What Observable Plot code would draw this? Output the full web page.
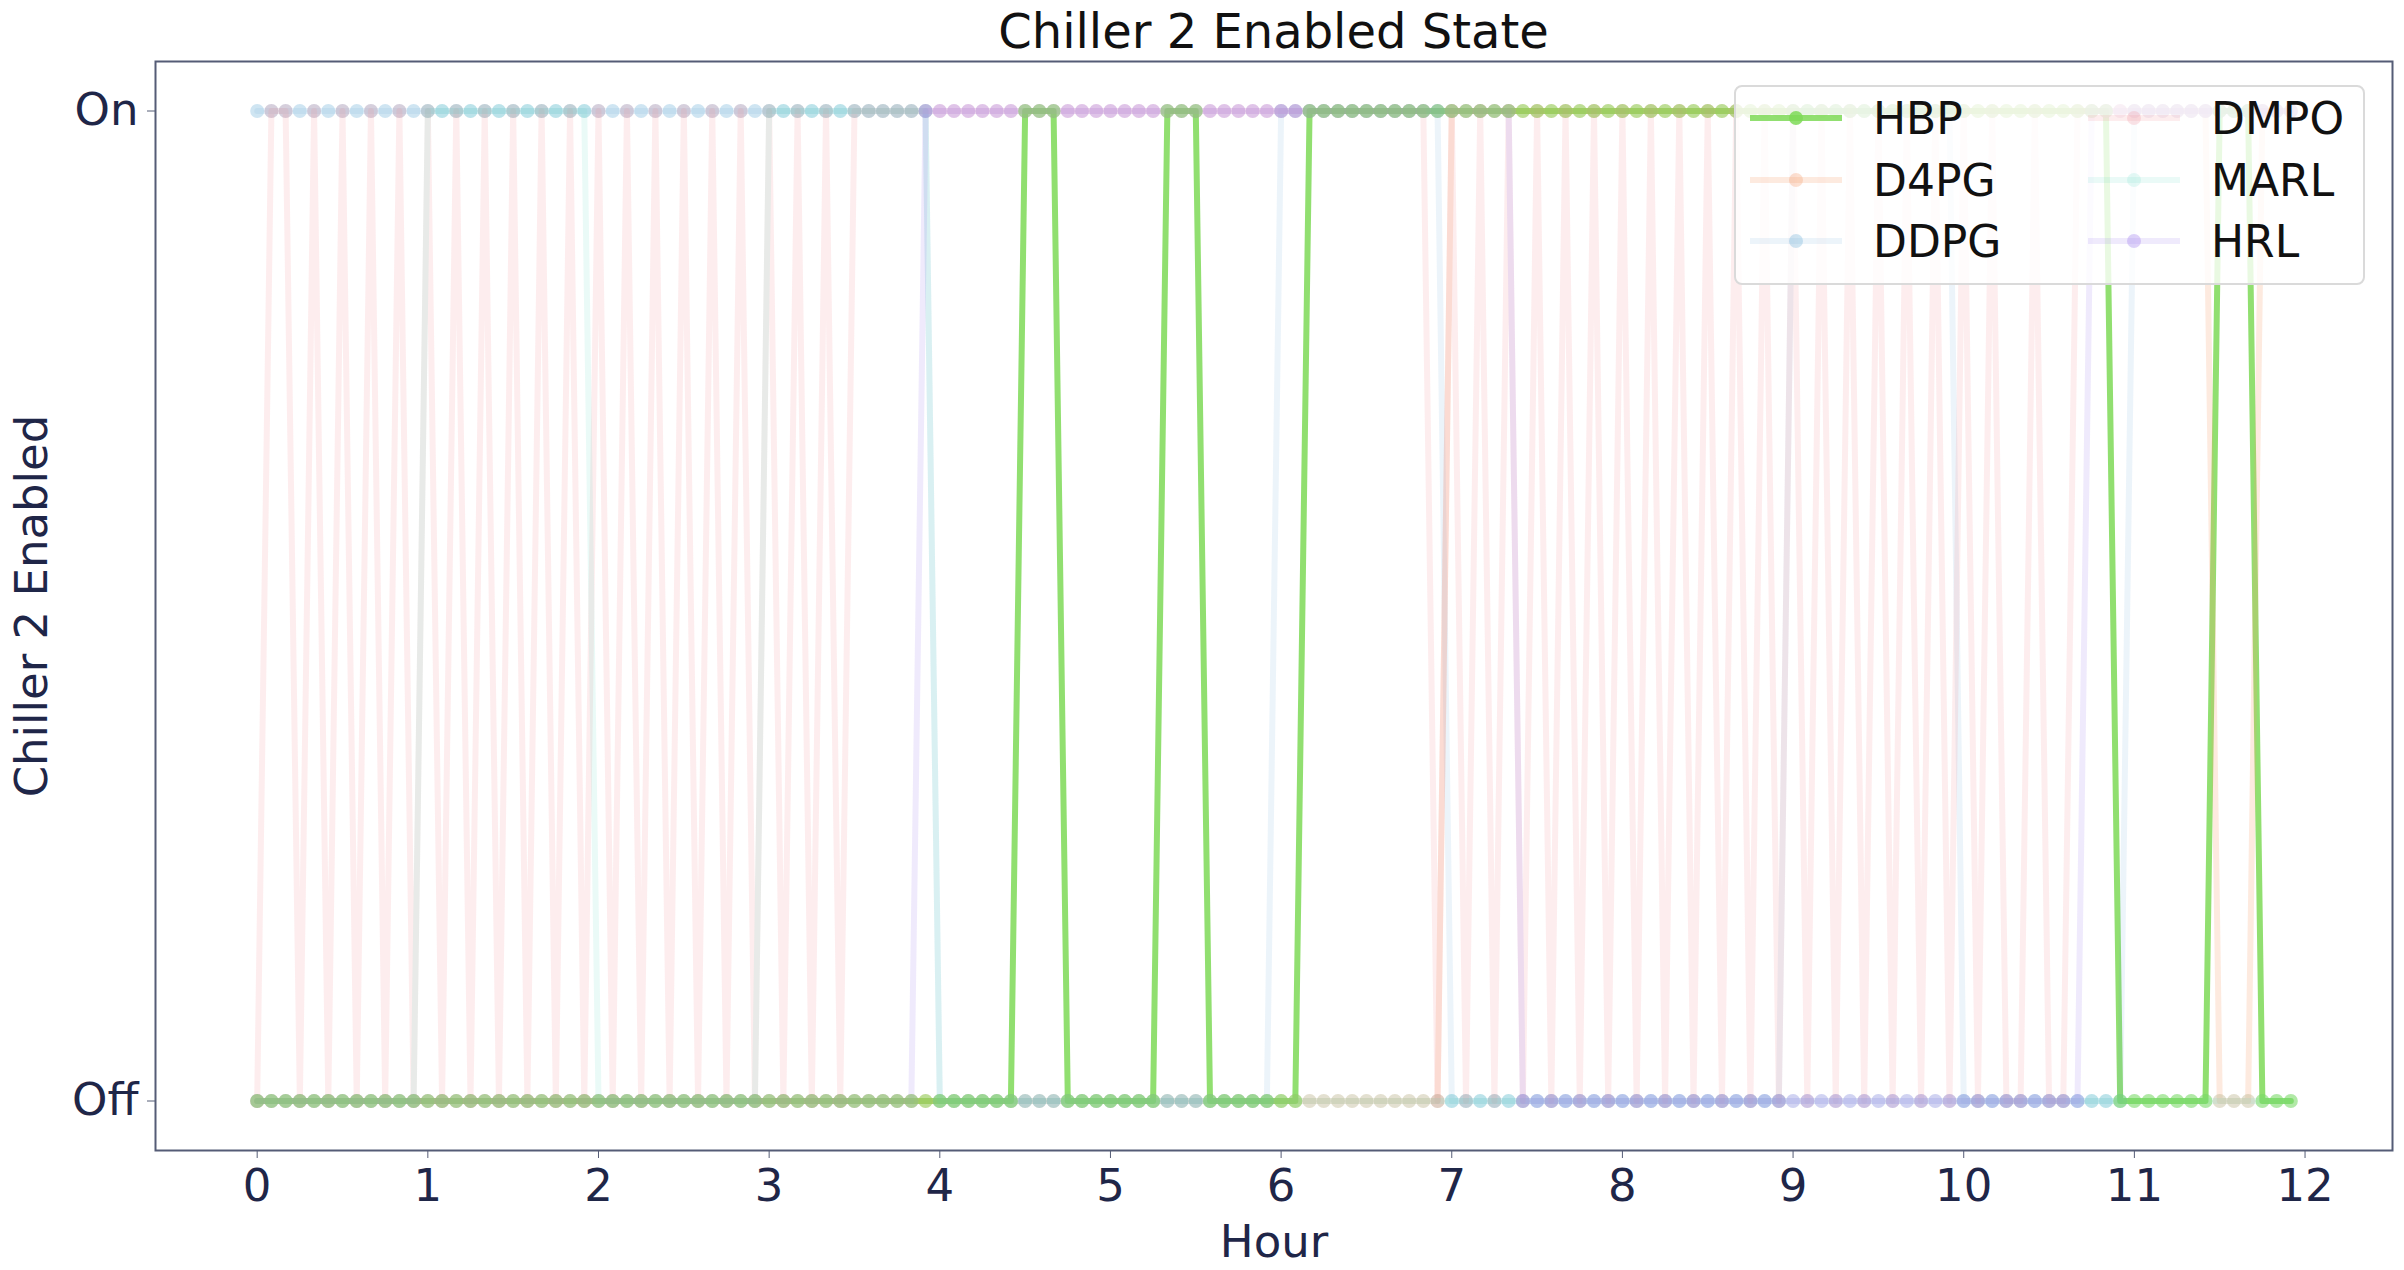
<!DOCTYPE html>
<html><head><meta charset="utf-8">
<script src="https://cdn.jsdelivr.net/npm/d3@7"></script>
<script src="https://cdn.jsdelivr.net/npm/@observablehq/plot@0.6"></script>
<style>
html,body{margin:0;padding:0;background:#fff;}
body{width:2404px;height:1270px;position:relative;overflow:hidden;font-family:"DejaVu Sans",sans-serif;}
#title{height:56px;line-height:62px;text-align:center;font-size:48px;color:#111;margin-left:155px;width:2237px;white-space:nowrap;}
#chart svg{display:block;}
#legend{position:absolute;left:1734px;top:85px;width:627px;height:196px;background:rgba(255,255,255,0.8);border:2px solid #dadada;border-radius:8px;}
.item{position:absolute;height:60px;display:flex;align-items:center;font-size:44px;color:#111;white-space:nowrap;}
.item svg{margin-right:30px;}
</style></head><body>
<div id="title"></div>
<div id="chart"></div>
<div id="legend"></div>
<script>
const titleText = "Chiller 2 Enabled State";
const xLabel = "Hour";
const yLabel = "Chiller 2 Enabled";
const xTicks = [0,1,2,3,4,5,6,7,8,9,10,11,12];
const yTicks = [0, 1];
const yTickLabels = ["Off", "On"];
const stepMinutes = 5;

const seriesNames = ["HBP", "D4PG", "DDPG", "DMPO", "MARL", "HRL"];
const seriesColors = ["#7ed957", "#f79f6f", "#5fa8d3", "#f08c96", "#5fd9c0", "#a989ee"];
const lineOpacity = [0.85, 0.22, 0.12, 0.16, 0.13, 0.18];
const dotOpacity  = [0.5, 0.3, 0.3, 0.24, 0.16, 0.34];

// states sampled every 5 minutes, 12 samples per hour row (1 = On, 0 = Off)
const HBP = [
 0,0,0,0,0,0,0,0,0,0,0,0,
 0,0,0,0,0,0,0,0,0,0,0,0,
 0,0,0,0,0,0,0,0,0,0,0,0,
 0,0,0,0,0,0,0,0,0,0,0,0,
 0,0,0,0,0,0,1,1,1,0,0,0,
 0,0,0,0,1,1,1,0,0,0,0,0,
 0,0,1,1,1,1,1,1,1,1,1,1,
 1,1,1,1,1,1,1,1,1,1,1,1,
 1,1,1,1,1,1,1,1,1,1,1,1,
 1,1,1,1,1,1,1,1,1,1,1,1,
 1,1,1,1,1,1,1,1,1,1,1,0,
 0,0,0,0,0,0,1,1,1,0,0,0
];
const D4PG = [
 0,0,0,0,0,0,0,0,0,0,0,0,
 0,0,0,0,0,0,0,0,0,0,0,0,
 0,0,0,0,0,0,0,0,0,0,0,0,
 0,0,0,0,0,0,0,0,0,0,0,0,
 0,0,0,0,0,0,0,0,0,0,0,0,
 0,0,0,0,0,0,0,0,0,0,0,0,
 0,0,0,0,0,0,0,0,0,0,0,0,
 1,1,1,1,1,1,1,1,1,1,1,1,
 1,1,1,1,1,1,1,1,1,1,1,1,
 1,1,1,1,1,1,1,1,1,1,1,1,
 1,1,1,1,1,1,1,1,1,1,1,1,
 1,1,1,1,1,1,0,0,0,1,1,1
];
const DDPG = [
 1,1,1,1,1,1,1,1,1,1,1,1,
 1,1,1,1,1,1,1,1,1,1,1,1,
 1,1,1,1,1,1,1,1,1,1,1,1,
 1,1,1,1,1,1,1,1,1,1,1,1,
 0,0,0,0,0,0,0,0,0,0,0,0,
 0,0,0,0,0,0,0,0,0,0,0,0,
 1,1,1,1,1,1,1,1,1,1,1,1,
 0,0,0,0,0,0,0,0,0,0,0,0,
 0,0,0,0,0,0,0,0,0,0,0,0,
 1,1,1,1,1,1,1,1,1,1,1,1,
 0,0,0,0,0,0,0,0,0,0,0,0,
 1,1,1,1,1,1,1,1,1,1,1,1
];
const DMPO = [
 0,1,1,0,1,0,1,0,1,0,1,0,
 1,0,1,0,1,0,1,0,1,0,1,0,
 1,0,1,0,1,0,1,0,1,0,1,0,
 1,0,1,0,1,0,1,1,1,1,1,1,
 1,1,1,1,1,1,1,1,1,1,1,1,
 1,1,1,1,1,1,1,1,1,1,1,1,
 1,1,1,1,1,1,1,1,1,1,1,0,
 1,0,1,0,1,0,1,0,1,0,1,0,
 1,0,1,0,1,0,1,0,1,0,1,0,
 1,0,1,0,1,0,1,0,1,0,1,0,
 1,0,1,0,0,1,0,0,1,1,1,1,
 1,1,1,1,1,1,1,1,1,1,1,1
];
const MARL = [
 0,0,0,0,0,0,0,0,0,0,0,0,
 1,1,1,1,1,1,1,1,1,1,1,1,
 0,0,0,0,0,0,0,0,0,0,0,0,
 1,1,1,1,1,1,1,1,1,1,1,1,
 0,0,0,0,0,0,0,0,0,0,0,0,
 0,0,0,0,0,0,0,0,0,0,0,0,
 0,0,0,0,0,0,0,0,0,0,0,0,
 0,0,0,0,0,0,0,0,0,0,0,0,
 0,0,0,0,0,0,0,0,0,0,0,0,
 0,0,0,0,0,0,0,0,0,0,0,0,
 0,0,0,0,0,0,0,0,0,0,0,0,
 0,0,0,0,0,0,0,0,0,0,0,0
];
const HRL = [
 0,0,0,0,0,0,0,0,0,0,0,0,
 0,0,0,0,0,0,0,0,0,0,0,0,
 0,0,0,0,0,0,0,0,0,0,0,0,
 0,0,0,0,0,0,0,0,0,0,0,1,
 1,1,1,1,1,1,1,1,1,1,1,1,
 1,1,1,1,1,1,1,1,1,1,1,1,
 1,1,1,1,1,1,1,1,1,1,1,1,
 1,1,1,1,1,0,0,0,0,0,0,0,
 0,0,0,0,0,0,0,0,0,0,0,0,
 0,0,0,0,0,0,0,0,0,0,0,0,
 0,0,0,0,0,0,0,0,0,1,1,1,
 1,1,1,1,1,1,1,1,1,1,1,1
];
const stateLists = [HBP, D4PG, DDPG, DMPO, MARL, HRL];

const W = 2404, H = 1270, titleH = 56;
document.getElementById("title").textContent = titleText;

const seriesData = seriesNames.map((name, s) =>
  stateLists[s].map((v, i) => ({series: name, hour: i * stepMinutes / 60, state: v})));
const lineMark = s => Plot.line(seriesData[s], {x: "hour", y: "state", stroke: seriesColors[s], strokeWidth: 6, strokeOpacity: lineOpacity[s]});
const dotMark = s => Plot.dot(seriesData[s], {x: "hour", y: "state", r: 7, fill: seriesColors[s], fillOpacity: dotOpacity[s], stroke: "none"});

const marks = [lineMark(0)];
[1, 2, 3, 4, 5].forEach(s => { marks.push(lineMark(s)); marks.push(dotMark(s)); });
marks.push(dotMark(0));

const nSamples = HBP.length;
const xMax = (nSamples - 1) * stepMinutes / 60;
const xPad = xMax * 0.05;

const chart = Plot.plot({
  width: W,
  height: H - titleH,
  marginLeft: 155,
  marginRight: 12,
  marginTop: 5,
  marginBottom: 120,
  style: {fontFamily: "DejaVu Sans, sans-serif", color: "#1f2648", background: "#fff", overflow: "visible"},
  x: {domain: [-xPad, xMax + xPad]},
  y: {domain: [-0.05, 1.05]},
  marks: [
    ...marks,
    Plot.frame({stroke: "#555c76", strokeWidth: 2}),
    Plot.axisX({ticks: xTicks, tickFormat: d => String(d), tickSize: 8, tickPadding: 11, fontSize: 45, stroke: "#555c76",
      label: xLabel, labelAnchor: "center", labelArrow: "none", labelOffset: 106}),
    Plot.axisY({ticks: yTicks, tickFormat: d => yTickLabels[yTicks.indexOf(d)], tickSize: 8, tickPadding: 9, fontSize: 45, stroke: "#555c76",
      label: yLabel, labelAnchor: "center", labelArrow: "none", labelOffset: 140})
  ]
});
document.getElementById("chart").appendChild(chart);

// legend (two columns, three rows)
const legend = document.getElementById("legend");
const legendRows = [118, 180, 241];
const legendCols = [1749, 2087];
const legendDotOpacity = [0.85, 0.32, 0.3, 0.24, 0.16, 0.38];
seriesNames.forEach((name, s) => {
  const col = Math.floor(s / 3), row = s % 3;
  const item = document.createElement("div");
  item.className = "item";
  item.style.left = (legendCols[col] - 1736) + "px";
  item.style.top = (legendRows[row] - 87 - 30) + "px";
  const ns = "http://www.w3.org/2000/svg";
  const svg = document.createElementNS(ns, "svg");
  svg.setAttribute("width", 94); svg.setAttribute("height", 20);
  const ln = document.createElementNS(ns, "line");
  ln.setAttribute("x1", 1); ln.setAttribute("x2", 93); ln.setAttribute("y1", 10); ln.setAttribute("y2", 10);
  ln.setAttribute("stroke", seriesColors[s]); ln.setAttribute("stroke-width", 6); ln.setAttribute("stroke-opacity", lineOpacity[s]);
  const c = document.createElementNS(ns, "circle");
  c.setAttribute("cx", 47); c.setAttribute("cy", 10); c.setAttribute("r", 7);
  c.setAttribute("fill", seriesColors[s]); c.setAttribute("fill-opacity", legendDotOpacity[s]);
  svg.appendChild(ln); svg.appendChild(c);
  item.appendChild(svg);
  const t = document.createElement("span");
  t.textContent = name;
  item.appendChild(t);
  legend.appendChild(item);
});
</script></body></html>
